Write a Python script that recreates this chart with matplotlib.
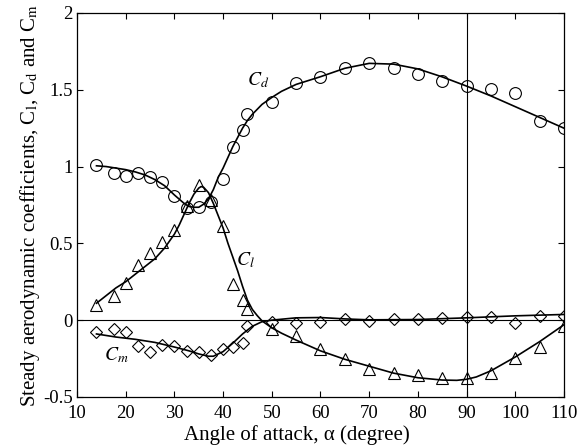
import matplotlib
matplotlib.use("Agg")
import matplotlib.pyplot as plt

plt.rcParams["font.family"] = ["Liberation Serif", "DejaVu Serif"]
plt.rcParams["mathtext.fontset"] = "stix"
plt.rcParams["axes.unicode_minus"] = False

# measured points
alpha_pts = [14, 17.5, 20, 22.5, 25, 27.5, 30, 32.5, 35, 37.5, 40, 42, 44, 45, 50,
             55, 60, 65, 70, 75, 80, 85, 90, 95, 100, 105, 110]
cd_pts = [1.01, 0.96, 0.94, 0.96, 0.935, 0.90, 0.81, 0.73, 0.735, 0.77, 0.92, 1.13,
          1.235, 1.345, 1.42, 1.545, 1.58, 1.645, 1.675, 1.645, 1.60, 1.555, 1.525,
          1.505, 1.48, 1.295, 1.25]
cl_pts = [0.10, 0.155, 0.245, 0.36, 0.44, 0.51, 0.59, 0.74, 0.88, 0.78, 0.61, 0.235,
          0.13, 0.075, -0.055, -0.105, -0.19, -0.25, -0.315, -0.345, -0.355, -0.375,
          -0.375, -0.345, -0.245, -0.175, -0.04]
cm_pts = [-0.08, -0.06, -0.08, -0.17, -0.205, -0.165, -0.17, -0.20, -0.21, -0.23,
          -0.19, -0.175, -0.15, -0.04, -0.01, -0.02, -0.015, 0.005, -0.005, 0.005,
          0.005, 0.015, 0.02, 0.02, -0.02, 0.025, 0.03]

# fitted curves
alpha_cd = [14, 16, 18, 20, 22, 24, 26, 28, 30, 32, 33, 34, 35, 36, 37, 38, 39, 40,
            41, 42, 43, 44, 45, 46, 48, 50, 52, 55, 60, 65, 70, 75, 80, 85, 90, 95,
            100, 105, 110]
cd_fit = [1.005, 1.0, 0.99, 0.98, 0.965, 0.945, 0.915, 0.875, 0.815, 0.76, 0.74,
          0.735, 0.735, 0.755, 0.79, 0.85, 0.93, 0.99, 1.06, 1.13, 1.19, 1.25, 1.30,
          1.34, 1.405, 1.45, 1.49, 1.535, 1.585, 1.64, 1.672, 1.667, 1.636, 1.584,
          1.524, 1.46, 1.39, 1.32, 1.25]
alpha_cl = [14, 16, 18, 20, 22, 24, 26, 28, 30, 31, 32, 33, 34, 35, 35.5, 36, 37, 38,
            39, 40, 41, 42, 43, 44, 45, 46, 47, 48, 50, 52, 55, 60, 65, 70, 75, 80,
            85, 88, 90, 92, 95, 100, 105, 110]
cl_fit = [0.11, 0.16, 0.21, 0.25, 0.30, 0.35, 0.40, 0.47, 0.56, 0.62, 0.69, 0.76,
          0.82, 0.86, 0.87, 0.865, 0.83, 0.76, 0.68, 0.60, 0.50, 0.41, 0.32, 0.22,
          0.13, 0.07, 0.03, -0.005, -0.05, -0.085, -0.13, -0.20, -0.255, -0.30,
          -0.345, -0.375, -0.39, -0.392, -0.385, -0.37, -0.33, -0.24, -0.14, -0.03]
alpha_cm = [14, 18, 22, 26, 30, 33, 35, 37, 38, 40, 42, 44, 46, 48, 50, 55, 60, 65,
            70, 80, 90, 100, 110]
cm_fit = [-0.09, -0.11, -0.125, -0.145, -0.175, -0.20, -0.22, -0.235, -0.235, -0.205,
          -0.15, -0.09, -0.04, -0.01, 0.0, 0.015, 0.017, 0.008, 0.002, 0.004, 0.015,
          0.028, 0.037]

fig = plt.figure(figsize=(5.79, 4.48), dpi=100)
ax = fig.add_axes([0.133, 0.114, 0.841, 0.857])

ax.axhline(0, color="black", lw=0.8, zorder=1)
ax.axvline(90, color="black", lw=0.8, zorder=1)

for a, v in [(alpha_cd, cd_fit), (alpha_cl, cl_fit), (alpha_cm, cm_fit)]:
    ax.plot(a, v, color="black", lw=1.2, zorder=2)

mk = dict(linestyle="none", markerfacecolor="none", markeredgecolor="black",
          markeredgewidth=0.8, zorder=3)
ax.plot(alpha_pts, cd_pts, marker="o", markersize=8.5, **mk)
ax.plot(alpha_pts, cl_pts, marker="^", markersize=9, **mk)
ax.plot(alpha_pts, cm_pts, marker="D", markersize=6.5, **mk)

ax.text(47.2, 1.565, r"$C_d$", fontsize=14, ha="center", va="center")
ax.text(44.5, 0.39, r"$C_l$", fontsize=14, ha="center", va="center")
ax.text(18.0, -0.23, r"$C_m$", fontsize=14, ha="center", va="center")

ax.set_xlim(10, 110)
ax.set_ylim(-0.5, 2)
ax.set_xticks(range(10, 111, 10))
ax.set_yticks([-0.5, 0, 0.5, 1, 1.5, 2])
ax.set_yticklabels(["-0.5", "0", "0.5", "1", "1.5", "2"])
ax.tick_params(direction="in", length=4, width=0.8, top=True, right=True,
               labelsize=13.5)
ax.tick_params(axis="x", pad=6)
ax.tick_params(axis="y", pad=3)
for s in ax.spines.values():
    s.set_linewidth(0.9)

ax.set_xlabel("Angle of attack, \u03b1 (degree)", fontsize=15, labelpad=2, x=0.452)
ax.set_ylabel(r"Steady aerodynamic coefficients, C$_\mathrm{l}$, C$_\mathrm{d}$ and C$_\mathrm{m}$",
              fontsize=15, labelpad=1)

fig.savefig("out.png", dpi=100)
